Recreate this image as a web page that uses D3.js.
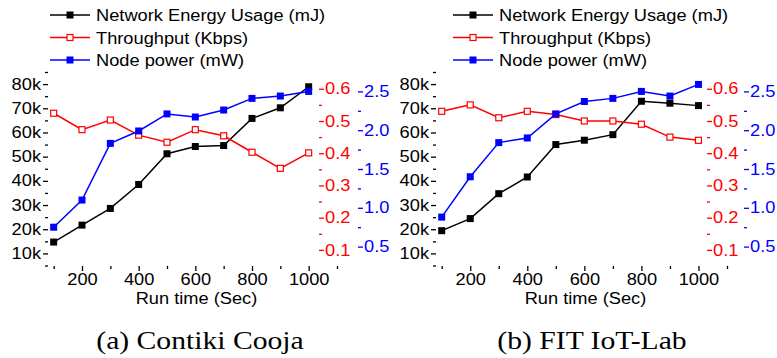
<!DOCTYPE html>
<html>
<head>
<meta charset="utf-8">
<script src="https://cdn.jsdelivr.net/npm/d3@7"></script>
<style>
  body { margin: 0; background: #fff; }
  svg text { font-family: "Liberation Sans", Arial, sans-serif; }
</style>
</head>
<body>
<div id="chart"></div>
<script>
// run time in seconds
const runTime = [100, 200, 300, 400, 500, 600, 700, 800, 900, 1000];

// (a) Contiki Cooja
const coojaEnergy = [14700, 21700, 28600, 38500, 51200, 54200, 54600, 65800, 70200, 78900];
const coojaThroughput = [0.524, 0.473, 0.503, 0.456, 0.434, 0.473, 0.454, 0.403, 0.353, 0.401];
const coojaPower = [0.75, 1.10, 1.83, 1.99, 2.21, 2.17, 2.26, 2.41, 2.44, 2.50];

// (b) FIT IoT-Lab
const iotlabEnergy = [19400, 24400, 34700, 41600, 55000, 56800, 59100, 72900, 72100, 71100];
const iotlabThroughput = [0.53, 0.55, 0.51, 0.53, 0.52, 0.50, 0.50, 0.49, 0.45, 0.44];
const iotlabPower = [0.88, 1.40, 1.84, 1.90, 2.21, 2.37, 2.41, 2.50, 2.44, 2.59];

// ticks
const xTicks = [200, 400, 600, 800, 1000];
const energyTicks = [10000, 20000, 30000, 40000, 50000, 60000, 70000, 80000];
const throughputTicks = [0.1, 0.2, 0.3, 0.4, 0.5, 0.6];
const powerTicks = [0.5, 1.0, 1.5, 2.0, 2.5];

const legendLabels = ["Network Energy Usage (mJ)", "Throughput (Kbps)", "Node power (mW)"];
const captions = ["(a) Contiki Cooja", "(b) FIT IoT-Lab"];

const width = 777, height = 358;
const plotTop = 72, plotBottom = 266;
const fontSize = 16;
const stretchX = 1.14; // the original glyphs are a bit wider than Arial

const svg = d3.select("#chart").append("svg")
  .attr("width", width)
  .attr("height", height);

function stretch(sel, k) {
  sel.each(function () {
    const len = this.getComputedTextLength();
    d3.select(this).attr("textLength", len * k).attr("lengthAdjust", "spacingAndGlyphs");
  });
}

function minorTicks(axis, values) {
  return axis.tickValues(values).tickFormat("").tickSize(3).tickSizeOuter(0);
}

function styleAxis(g, color) {
  g.selectAll(".domain").attr("stroke", color).attr("stroke-width", 1.6);
  g.selectAll(".tick line").attr("stroke", color).attr("stroke-width", 1.3);
  g.selectAll("text").attr("fill", color)
    .style("font-size", fontSize + "px")
    .style("font-family", "Liberation Sans, Arial, sans-serif");
  stretch(g.selectAll("text"), stretchX);
}

function drawPanel(p) {
  const g = svg.append("g");

  const x = d3.scaleLinear().domain([80, 1100]).range([p.left, p.xEnd]);
  const yE = d3.scaleLinear().domain([4800, 85000]).range([plotBottom, plotTop]);
  const yT = d3.scaleLinear().domain([0.05, 0.652]).range([plotBottom, plotTop]);
  const yP = d3.scaleLinear().domain([0.25, 2.75]).range([plotBottom, plotTop]);

  // x axis
  const gx = g.append("g").attr("transform", "translate(0," + plotBottom + ")");
  gx.call(d3.axisBottom(x).tickValues(xTicks).tickSize(5).tickSizeOuter(0).tickPadding(3)
    .tickFormat(d3.format("d")));
  gx.append("g").call(minorTicks(d3.axisBottom(x), d3.range(100, 1101, 200)));
  gx.selectAll("g g .domain").remove();
  styleAxis(gx, "#000");

  // left axis
  const gl = g.append("g").attr("transform", "translate(" + p.left + ",0)");
  gl.call(d3.axisLeft(yE).tickValues(energyTicks).tickSize(5).tickSizeOuter(0).tickPadding(2)
    .tickFormat(d => d / 1000 + "k"));
  gl.append("g").call(minorTicks(d3.axisLeft(yE), d3.range(5000, 85001, 10000)));
  gl.selectAll("g g .domain").remove();
  styleAxis(gl, "#000");

  // red axis (throughput)
  const gr = g.append("g").attr("transform", "translate(" + p.red + ",0)");
  gr.call(d3.axisRight(yT).tickValues(throughputTicks).tickSize(5).tickSizeOuter(4).tickPadding(1)
    .tickFormat(d3.format(".1f")));
  gr.append("g").call(minorTicks(d3.axisRight(yT), [0.15, 0.25, 0.35, 0.45, 0.55]));
  gr.selectAll("g g .domain").remove();
  styleAxis(gr, "#ff0000");

  // blue axis (node power)
  const gb = g.append("g").attr("transform", "translate(" + p.blue + ",0)");
  gb.call(d3.axisRight(yP).tickValues(powerTicks).tickSize(5).tickSizeOuter(4).tickPadding(1)
    .tickFormat(d3.format(".1f")));
  gb.append("g").call(minorTicks(d3.axisRight(yP), [0.75, 1.25, 1.75, 2.25]));
  gb.selectAll("g g .domain").remove();
  styleAxis(gb, "#0000ff");

  // series
  const series = [
    { values: p.energy, y: yE, color: "#000", open: false },
    { values: p.throughput, y: yT, color: "#ff0000", open: true },
    { values: p.power, y: yP, color: "#0000ff", open: false }
  ];

  series.forEach(s => {
    const pts = runTime.map((t, i) => [x(t), s.y(s.values[i])]);
    g.append("path")
      .attr("d", d3.line()(pts))
      .attr("fill", "none")
      .attr("stroke", s.color)
      .attr("stroke-width", 1.5);
    g.selectAll(null).data(pts).enter().append("rect")
      .attr("x", d => d[0] - (s.open ? 3 : 3.5))
      .attr("y", d => d[1] - (s.open ? 3 : 3.5))
      .attr("width", s.open ? 6 : 7)
      .attr("height", s.open ? 6 : 7)
      .attr("fill", s.open ? "#fff" : s.color)
      .attr("stroke", s.open ? s.color : "none")
      .attr("stroke-width", 1.2);
  });

  // axis title
  g.append("text")
    .attr("x", (p.left + p.xEnd) / 2 + 4)
    .attr("y", 304)
    .attr("text-anchor", "middle")
    .style("font-size", fontSize + "px")
    .text("Run time (Sec)")
    .call(stretch, stretchX);

  // legend
  const colors = ["#000", "#ff0000", "#0000ff"];
  legendLabels.forEach((label, i) => {
    const ly = 15 + i * 22.5;
    const lg = g.append("g");
    lg.append("line")
      .attr("x1", p.legendX).attr("x2", p.legendX + 40)
      .attr("y1", ly).attr("y2", ly)
      .attr("stroke", colors[i]).attr("stroke-width", 1.5);
    lg.append("rect")
      .attr("x", p.legendX + 20 - (i === 1 ? 3 : 3.5))
      .attr("y", ly - (i === 1 ? 3 : 3.5))
      .attr("width", i === 1 ? 6 : 7).attr("height", i === 1 ? 6 : 7)
      .attr("fill", i === 1 ? "#fff" : colors[i])
      .attr("stroke", i === 1 ? colors[i] : "none")
      .attr("stroke-width", 1.2);
    lg.append("text")
      .attr("x", p.legendX + 46)
      .attr("y", ly + 6)
      .style("font-size", fontSize + "px")
      .text(label)
      .call(stretch, stretchX);
  });

  // caption
  g.append("text")
    .attr("x", p.captionX)
    .attr("y", 349)
    .attr("text-anchor", "middle")
    .style("font-family", "Liberation Serif, serif")
    .style("font-size", "26px")
    .text(p.caption)
    .call(stretch, 1.14);
}

drawPanel({
  left: 48, xEnd: 337, red: 319, blue: 358,
  energy: coojaEnergy, throughput: coojaThroughput, power: coojaPower,
  legendX: 50, captionX: 200, caption: captions[0]
});

drawPanel({
  left: 436, xEnd: 727, red: 707, blue: 744,
  energy: iotlabEnergy, throughput: iotlabThroughput, power: iotlabPower,
  legendX: 453, captionX: 592, caption: captions[1]
});
</script>
</body>
</html>
